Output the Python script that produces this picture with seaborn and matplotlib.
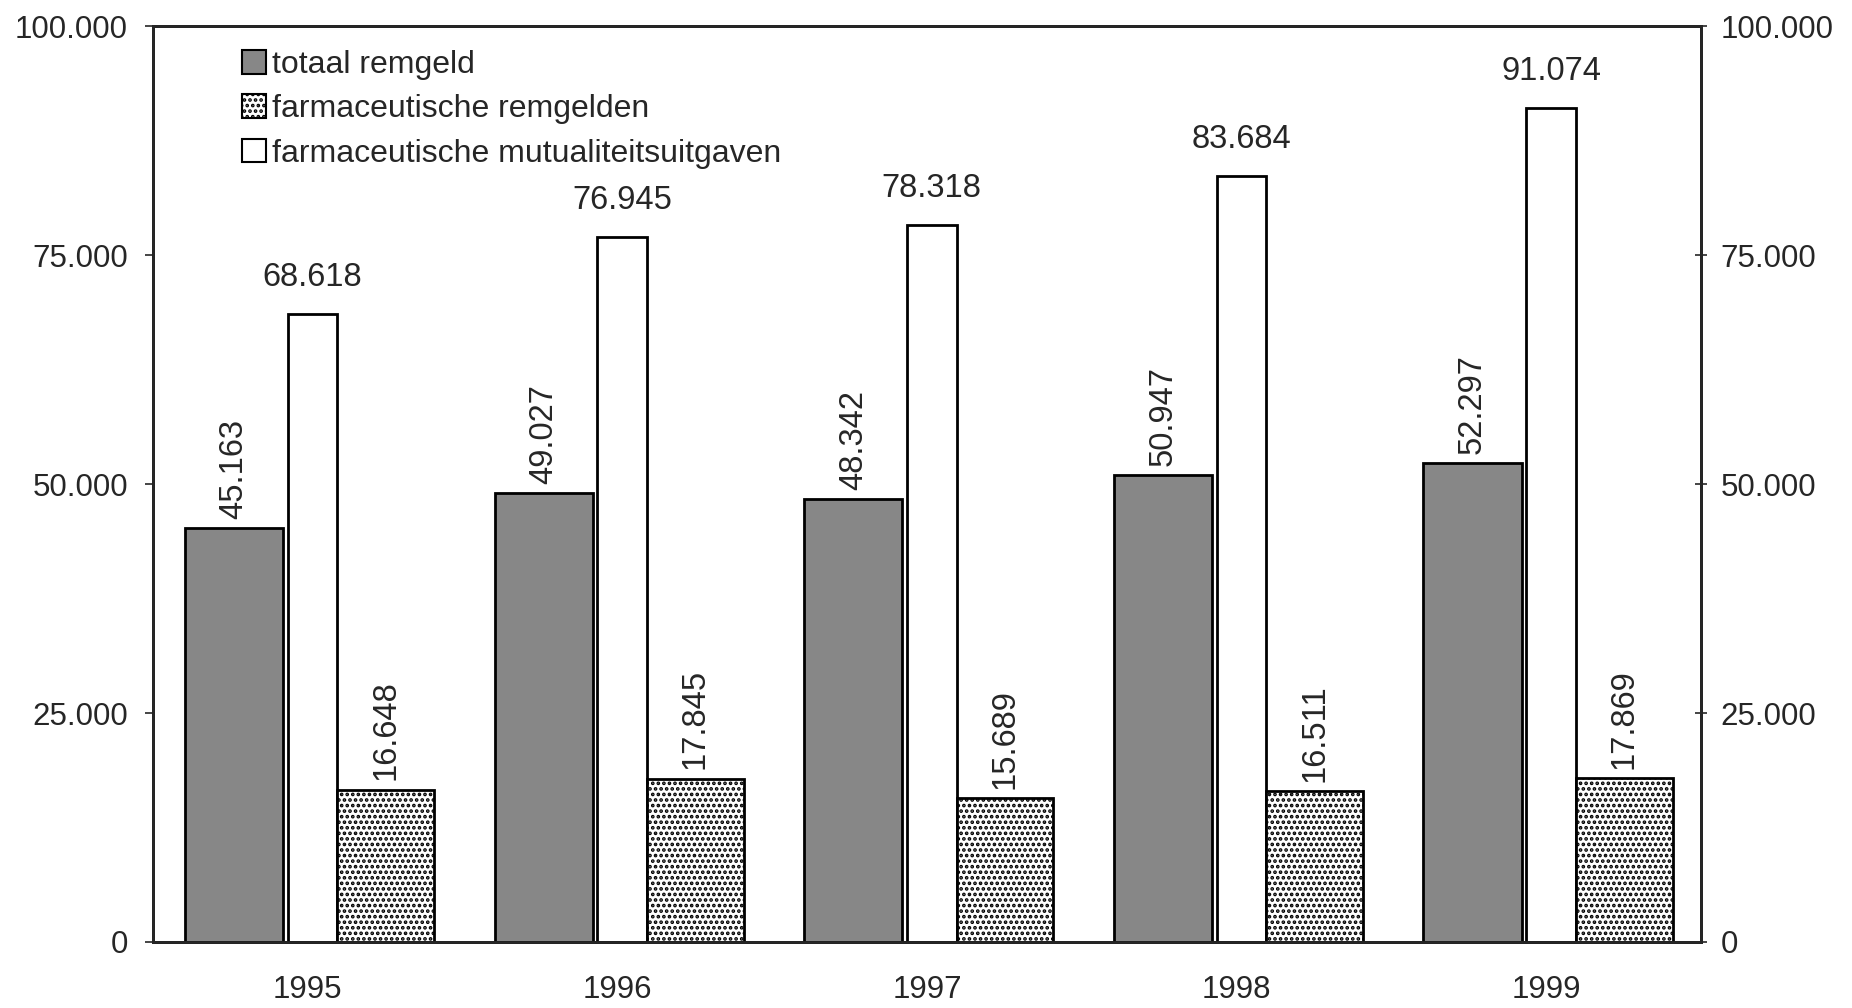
import pandas as pd
import numpy as np
import matplotlib
matplotlib.use("Agg")
import matplotlib.pyplot as plt
import seaborn as sns
from matplotlib.patches import Patch

years = ['1995', '1996', '1997', '1998', '1999']
totaal_remgeld = [45163, 49027, 48342, 50947, 52297]
mutualiteitsuitgaven = [68618, 76945, 78318, 83684, 91074]
farma_remgelden = [16648, 17845, 15689, 16511, 17869]

s_tot = 'totaal remgeld'
s_mut = 'farmaceutische mutualiteitsuitgaven'
s_rem = 'farmaceutische remgelden'

df = pd.DataFrame({
    'jaar': years * 3,
    'waarde': totaal_remgeld + mutualiteitsuitgaven + farma_remgelden,
    'reeks': [s_tot] * 5 + [s_mut] * 5 + [s_rem] * 5,
})

sns.set_style('white')
plt.rcParams['font.family'] = ['Liberation Sans', 'DejaVu Sans']
plt.rcParams['hatch.linewidth'] = 1.8

def fmt(v):
    return f'{int(v):,}'.replace(',', '.')

fig = plt.figure(figsize=(18.52, 10.08), dpi=100)
ax = fig.add_axes([0.0826, 0.0655, 0.836, 0.9085])

hue_order = [s_tot, s_mut, s_rem]
sns.barplot(data=df, x='jaar', y='waarde', hue='reeks', hue_order=hue_order,
            order=years, width=0.8, ax=ax, legend=False, errorbar=None)

dark = '#878787'
styles = {
    s_tot: dict(fc=dark, hatch=None),
    s_mut: dict(fc='white', hatch=None),
    s_rem: dict(fc='white', hatch='...'),
}
# bar spans relative to category centre (white bar is narrower)
spans = {s_tot: (-0.397, 0.317), s_mut: (-0.065, 0.160), s_rem: (0.095, 0.313)}

bars = ax.patches[:15]
for k, p in enumerate(bars):
    series = hue_order[k // 5]
    i = k % 5
    off, w = spans[series]
    p.set_x(i + off)
    p.set_width(w)
    p.set_facecolor(styles[series]['fc'])
    p.set_edgecolor('black')
    p.set_linewidth(2)
    if styles[series]['hatch']:
        p.set_hatch(styles[series]['hatch'])
    v = p.get_height()
    xc = p.get_x() + p.get_width() / 2
    if series == s_mut:
        ax.text(xc, v + 2300, fmt(v), ha='center', va='bottom', fontsize=23.5)
    else:
        ax.text(xc, v + 1000, fmt(v), ha='center', va='bottom', rotation=90, fontsize=23.5)

ticks = [0, 25000, 50000, 75000, 100000]
ax.set_xlim(-0.5, 4.5)
ax.set_ylim(0, 100000)
ax.set_yticks(ticks)
ax.set_yticklabels([fmt(t) for t in ticks], fontsize=22.5)
ax.set_xlabel('')
ax.set_ylabel('')
ax.set_xticks(range(5))
ax.set_xticklabels(years, fontsize=22.5)
ax.tick_params(axis='x', length=0, pad=24)
ax.set_xticks(np.arange(-0.5, 5, 1), minor=True)
ax.tick_params(axis='x', which='minor', length=5, width=1.2, direction='out')
ax.tick_params(axis='y', length=6, width=1.2, direction='out', left=True, pad=12)
for s in ax.spines.values():
    s.set_linewidth(2)
    s.set_color('black')

ax2 = ax.twinx()
ax2.set_ylim(0, 100000)
ax2.set_yticks(ticks)
ax2.set_yticklabels([fmt(t) for t in ticks], fontsize=22.5)
ax2.tick_params(axis='y', length=8, width=1.2, direction='inout', right=True, pad=10)
for s in ax2.spines.values():
    s.set_linewidth(2)

handles = [Patch(fc=dark, ec='black', lw=1.5),
           Patch(fc='white', ec='black', lw=1.5, hatch='...'),
           Patch(fc='white', ec='black', lw=1.5)]
ax.legend(handles, [s_tot, s_rem, s_mut], loc='upper left', bbox_to_anchor=(0.045, 0.995),
          frameon=False, fontsize=23, handlelength=0.75, handleheight=0.75,
          handletextpad=0.2, labelspacing=0.45, borderaxespad=0.2)

fig.savefig('out.png', dpi=100)
